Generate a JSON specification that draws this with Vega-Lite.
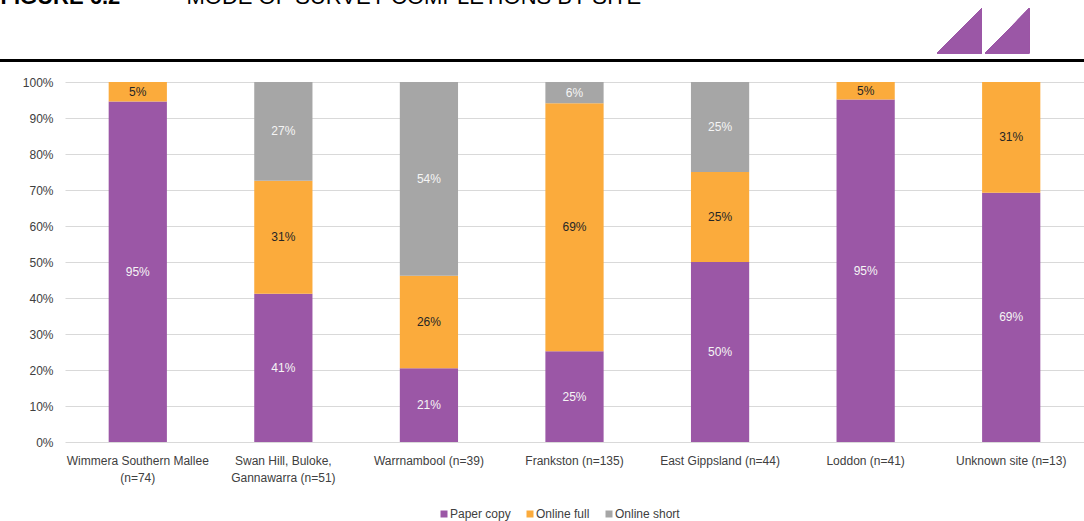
{
  "$schema": "https://vega.github.io/schema/vega-lite/v6.json",
  "autosize": {"type": "none"},
  "width": 1019,
  "height": 360,
  "padding": {"left": 65, "top": 82, "right": 0, "bottom": 79},
  "background": "white",
  "config": {
    "font": "Liberation Sans",
    "view": {"stroke": null},
    "axisY": {
      "tickCount": 11,
      "labelOverlap": false,
      "labelFontSize": 12,
      "labelColor": "#404040",
      "labelPadding": 12,
      "ticks": false,
      "domain": false,
      "grid": true,
      "gridColor": "#D9D9D9",
      "gridWidth": 1.2
    }
  },
  "data": {
    "values": [
      {"site": "Wimmera Southern Mallee|(n=74)", "mode": "Paper copy", "k": 1, "share": 0.9459},
      {"site": "Wimmera Southern Mallee|(n=74)", "mode": "Online full", "k": 2, "share": 0.0541},
      {"site": "Swan Hill, Buloke,|Gannawarra (n=51)", "mode": "Paper copy", "k": 1, "share": 0.4118},
      {"site": "Swan Hill, Buloke,|Gannawarra (n=51)", "mode": "Online full", "k": 2, "share": 0.3137},
      {"site": "Swan Hill, Buloke,|Gannawarra (n=51)", "mode": "Online short", "k": 3, "share": 0.2745},
      {"site": "Warrnambool (n=39)", "mode": "Paper copy", "k": 1, "share": 0.2051},
      {"site": "Warrnambool (n=39)", "mode": "Online full", "k": 2, "share": 0.2564},
      {"site": "Warrnambool (n=39)", "mode": "Online short", "k": 3, "share": 0.5385},
      {"site": "Frankston (n=135)", "mode": "Paper copy", "k": 1, "share": 0.2519},
      {"site": "Frankston (n=135)", "mode": "Online full", "k": 2, "share": 0.6889},
      {"site": "Frankston (n=135)", "mode": "Online short", "k": 3, "share": 0.0592},
      {"site": "East Gippsland  (n=44)", "mode": "Paper copy", "k": 1, "share": 0.5},
      {"site": "East Gippsland  (n=44)", "mode": "Online full", "k": 2, "share": 0.25},
      {"site": "East Gippsland  (n=44)", "mode": "Online short", "k": 3, "share": 0.25},
      {"site": "Loddon (n=41)", "mode": "Paper copy", "k": 1, "share": 0.9512},
      {"site": "Loddon (n=41)", "mode": "Online full", "k": 2, "share": 0.0488},
      {"site": "Unknown site (n=13)", "mode": "Paper copy", "k": 1, "share": 0.6923},
      {"site": "Unknown site (n=13)", "mode": "Online full", "k": 2, "share": 0.3077}
    ]
  },
  "layer": [
    {
      "mark": {"type": "bar"},
      "encoding": {
        "x": {
          "field": "site",
          "type": "nominal",
          "sort": null,
          "scale": {"paddingInner": 0.6, "paddingOuter": 0.3},
          "axis": {
            "title": "FIGURE 6.2",
            "titleX": -65,
            "titleY": -438.5,
            "titleAngle": 0,
            "titleAlign": "left",
            "titleBaseline": "alphabetic",
            "titleFontSize": 22,
            "titleFontWeight": "bold",
            "titleColor": "#000000",
            "labelAngle": 0,
            "labelExpr": "split(datum.label, '|')",
            "labelFontSize": 12,
            "labelColor": "#404040",
            "labelLineHeight": 17,
            "labelPadding": 13,
            "labelLimit": 200,
            "ticks": false,
            "domain": false
          }
        },
        "y": {
          "field": "share",
          "type": "quantitative",
          "stack": "zero",
          "scale": {"domain": [0, 1], "nice": false},
          "axis": {
            "title": "MODE OF SURVEY COMPLETIONS BY SITE",
            "titleX": 121,
            "titleY": -78.5,
            "titleAngle": 0,
            "titleAlign": "left",
            "titleBaseline": "alphabetic",
            "titleFontSize": 22,
            "titleFontWeight": "normal",
            "titleColor": "#000000",
            "values": [0, 0.1, 0.2, 0.3, 0.4, 0.5, 0.6, 0.7, 0.8, 0.9, 1],
            "tickCount": 11,
            "labelOverlap": false,
            "format": ".0%"
          }
        },
        "color": {
          "field": "mode",
          "type": "nominal",
          "scale": {
            "domain": ["Paper copy", "Online full", "Online short"],
            "range": ["#9B57A6", "#FBAB3C", "#A6A6A6"]
          },
          "legend": {
            "title": null,
            "orient": "none",
            "direction": "horizontal",
            "legendX": 373,
            "legendY": 426,
            "symbolType": "square",
            "symbolSize": 49,
            "symbolStrokeWidth": 0,
            "labelFontSize": 12,
            "labelColor": "#404040",
            "labelOffset": 0,
            "columnPadding": 13
          }
        },
        "order": {"field": "k", "type": "quantitative"}
      }
    },
    {
      "mark": {"type": "text", "fontSize": 12},
      "encoding": {
        "x": {"field": "site", "type": "nominal", "sort": null},
        "y": {
          "field": "share",
          "type": "quantitative",
          "stack": "zero",
          "bandPosition": 0.5,
          "axis": {"values": [0, 0.1, 0.2, 0.3, 0.4, 0.5, 0.6, 0.7, 0.8, 0.9, 1], "tickCount": 11, "labelOverlap": false, "format": ".0%"}
        },
        "detail": {"field": "mode"},
        "order": {"field": "k", "type": "quantitative"},
        "text": {"field": "share", "type": "quantitative", "format": ".0%"},
        "color": {
          "condition": {"test": "datum.mode === 'Online full'", "value": "#262626"},
          "value": "#F5F5F5"
        }
      }
    },
    {
      "mark": {"type": "rule", "color": "#000000", "strokeWidth": 2, "clip": false},
      "encoding": {
        "x": {"value": -65},
        "x2": {"value": 1019},
        "y": {
          "datum": 1.0603,
          "axis": {"values": [0, 0.1, 0.2, 0.3, 0.4, 0.5, 0.6, 0.7, 0.8, 0.9, 1], "tickCount": 11, "labelOverlap": false, "format": ".0%"}
        }
      }
    },
    {
      "mark": {
        "type": "point",
        "shape": "M-1,0.49L-0.033,-0.49L-0.033,0.49Z M0.043,0.49L1,-0.49L1,0.49Z",
        "filled": true,
        "opacity": 1,
        "color": "#9B57A6",
        "size": 8464,
        "xOffset": -28
      },
      "encoding": {
        "x": {"datum": "Unknown site (n=13)"},
        "y": {
          "datum": 1.1425,
          "axis": {"values": [0, 0.1, 0.2, 0.3, 0.4, 0.5, 0.6, 0.7, 0.8, 0.9, 1], "tickCount": 11, "labelOverlap": false, "format": ".0%"}
        }
      }
    }
  ]
}
